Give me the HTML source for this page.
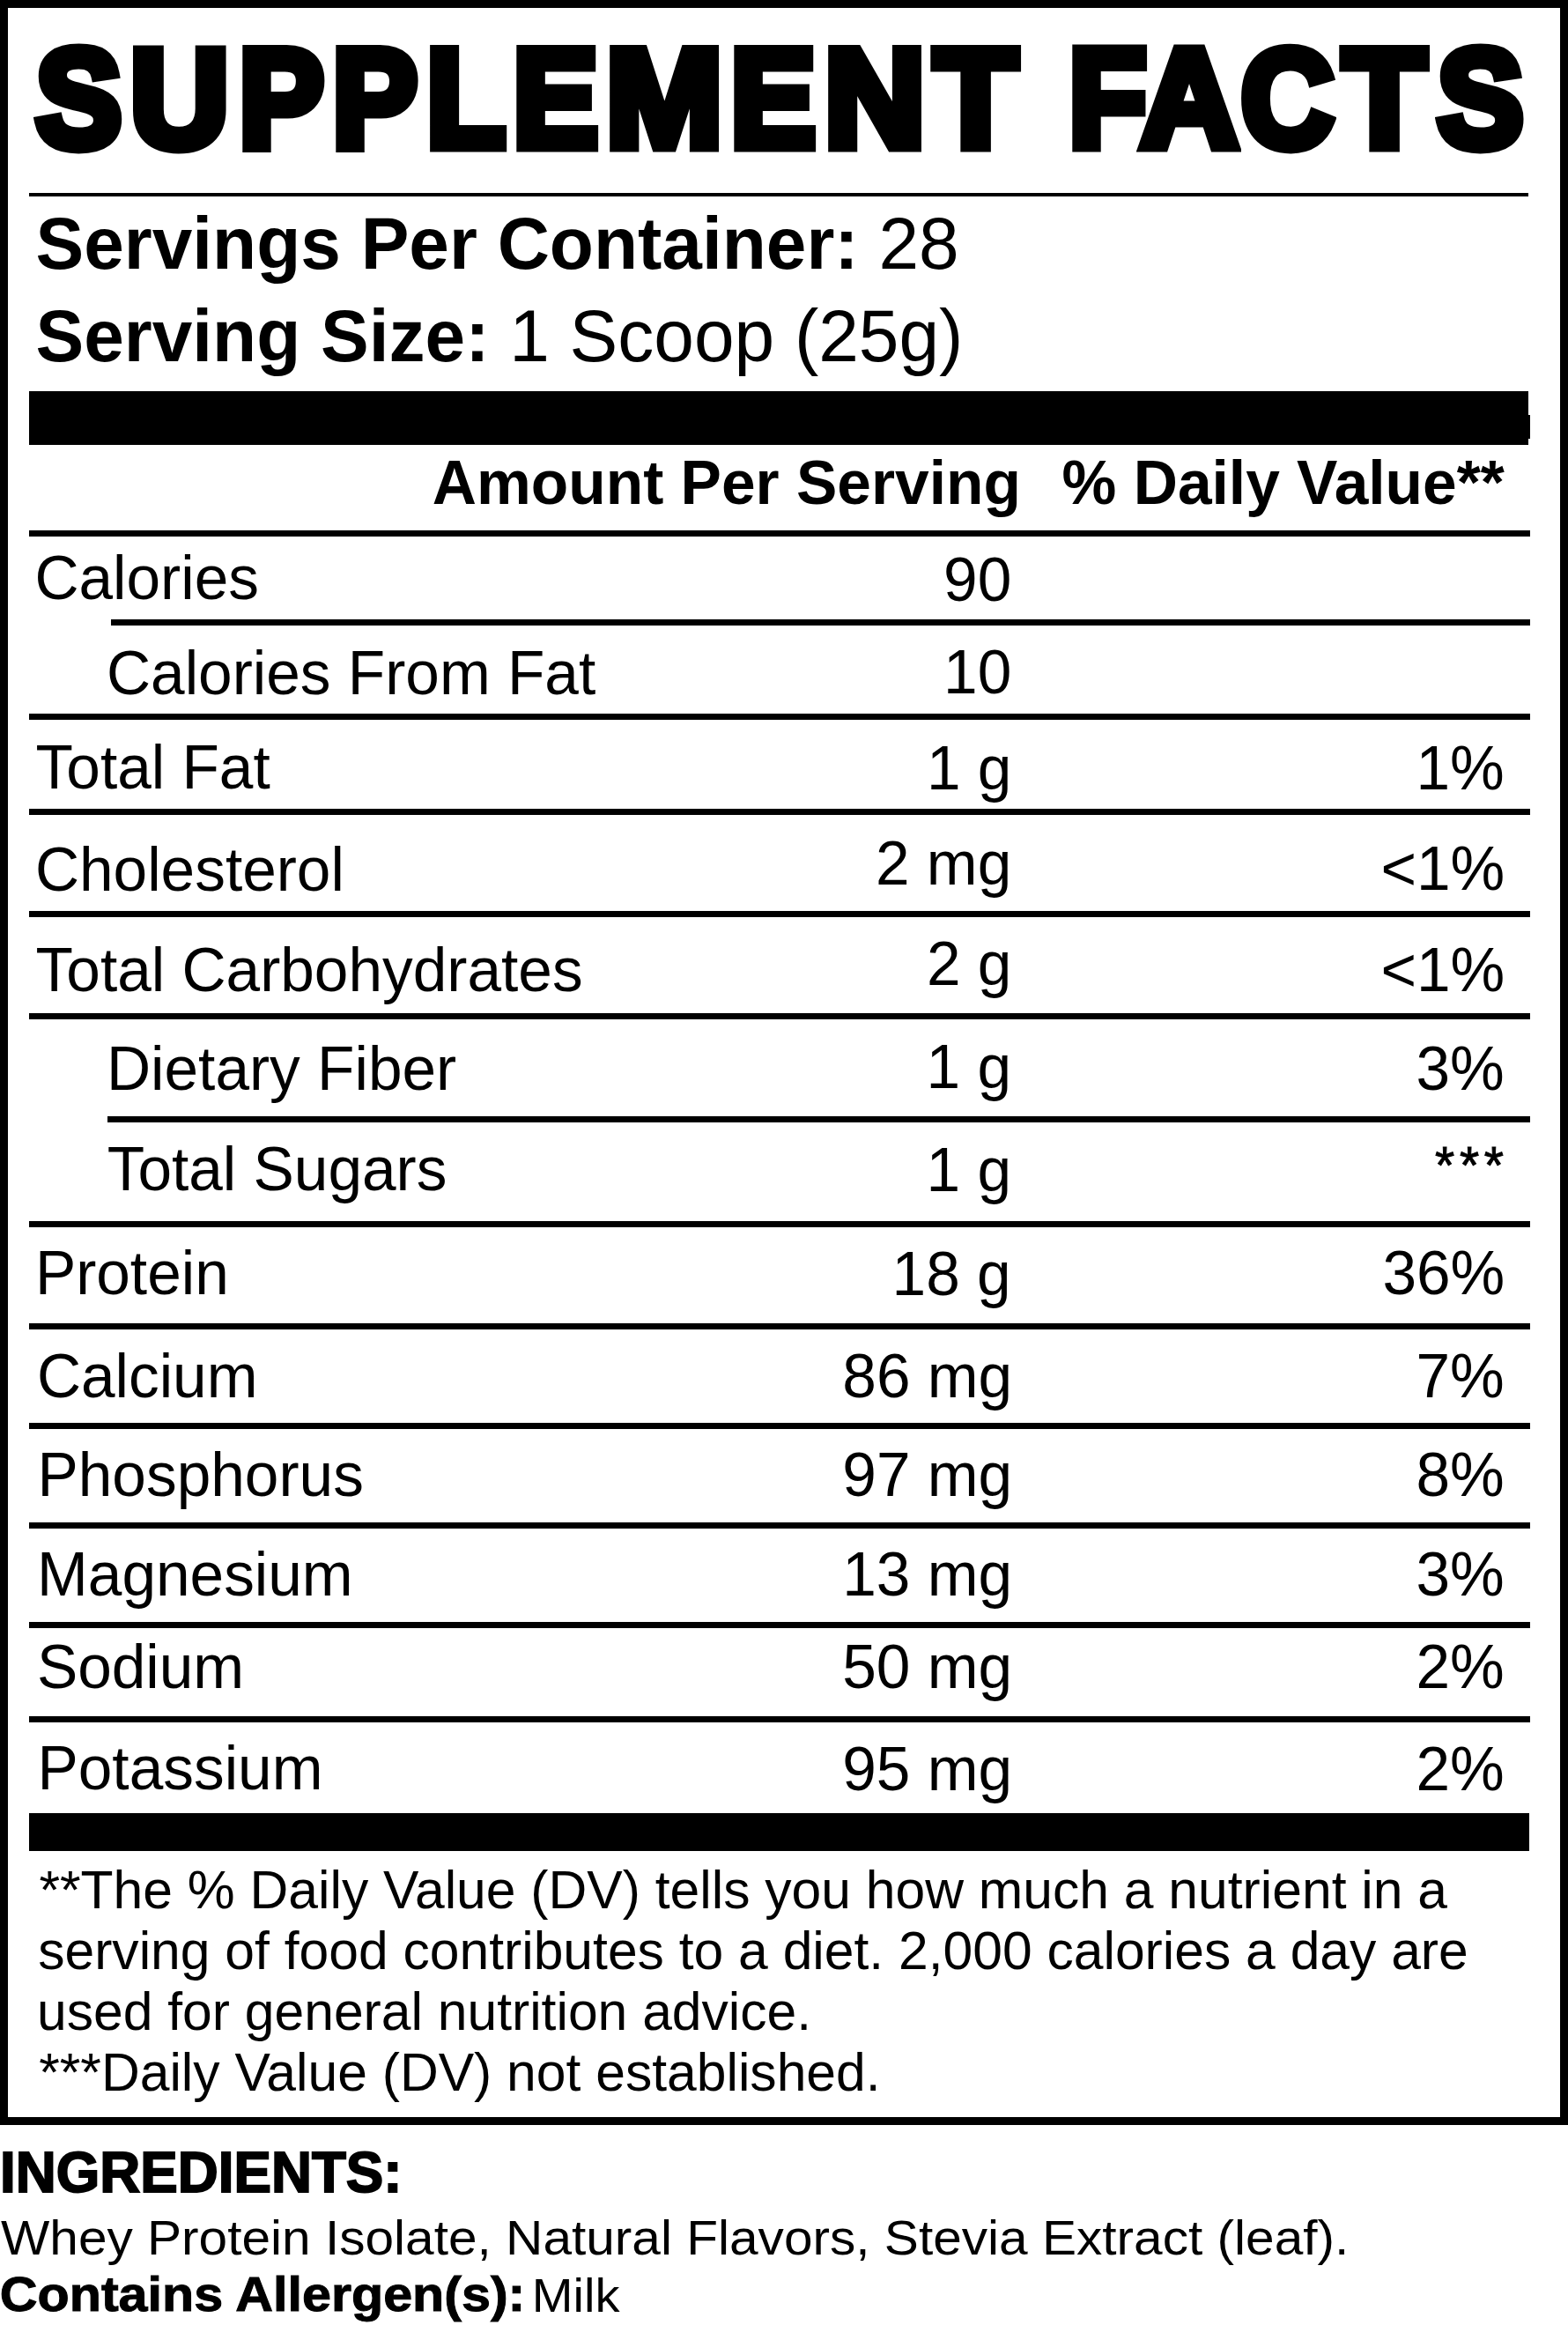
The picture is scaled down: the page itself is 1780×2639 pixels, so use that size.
<!DOCTYPE html>
<html><head><meta charset="utf-8"><title>Supplement Facts</title>
<style>
html,body{margin:0;padding:0;background:#fff;}
body{width:1780px;height:2639px;position:relative;overflow:hidden;}
.t{position:absolute;white-space:nowrap;font-family:"Liberation Sans",sans-serif;line-height:0;color:#000;}
.r{position:absolute;background:#000;}

</style></head><body>
<div class="r" style="left:0px;top:0px;width:1780px;height:9px"></div>
<div class="r" style="left:0px;top:0px;width:9px;height:2412px"></div>
<div class="r" style="left:1771px;top:0px;width:9px;height:2412px"></div>
<div class="r" style="left:0px;top:2403px;width:1780px;height:9px"></div>
<div class="r" style="left:33px;top:219px;width:1702px;height:4px"></div>
<div class="r" style="left:33px;top:444px;width:1702px;height:61px"></div>
<div class="r" style="left:1735px;top:471px;width:2px;height:27px"></div>
<div class="r" style="left:33px;top:602px;width:1704px;height:7px"></div>
<div class="r" style="left:126px;top:703px;width:1611px;height:7px"></div>
<div class="r" style="left:33px;top:810px;width:1704px;height:7px"></div>
<div class="r" style="left:33px;top:918px;width:1704px;height:7px"></div>
<div class="r" style="left:33px;top:1034px;width:1704px;height:7px"></div>
<div class="r" style="left:33px;top:1150px;width:1704px;height:7px"></div>
<div class="r" style="left:122px;top:1267px;width:1615px;height:7px"></div>
<div class="r" style="left:33px;top:1386px;width:1704px;height:7px"></div>
<div class="r" style="left:33px;top:1502px;width:1704px;height:7px"></div>
<div class="r" style="left:33px;top:1615px;width:1704px;height:7px"></div>
<div class="r" style="left:33px;top:1728px;width:1704px;height:7px"></div>
<div class="r" style="left:33px;top:1841px;width:1704px;height:7px"></div>
<div class="r" style="left:33px;top:1948px;width:1704px;height:7px"></div>
<div class="r" style="left:33px;top:2058px;width:1703px;height:43px"></div>
<div class="t" style="left:41.30px;top:111.00px;font-size:160px;font-weight:bold;-webkit-text-stroke:13px #000;transform:scale(0.9109090909090909,0.9852459016393443);transform-origin:-3.0px 61.0px;">S</div>
<div class="t" style="left:148.00px;top:111.00px;font-size:160px;font-weight:bold;-webkit-text-stroke:13px #000;transform:scale(0.9669724770642202,0.9852459016393443);transform-origin:3.0px 61.0px;">U</div>
<div class="t" style="left:270.50px;top:111.00px;font-size:160px;font-weight:bold;-webkit-text-stroke:13px #000;transform:scale(0.8990384615384616,0.9852459016393443);transform-origin:4.0px 61.0px;">P</div>
<div class="t" style="left:377.00px;top:111.00px;font-size:160px;font-weight:bold;-webkit-text-stroke:13px #000;transform:scale(0.9009615384615385,0.9852459016393443);transform-origin:4.0px 61.0px;">P</div>
<div class="t" style="left:484.00px;top:111.00px;font-size:160px;font-weight:bold;-webkit-text-stroke:13px #000;transform:scale(0.9157894736842105,0.9852459016393443);transform-origin:4.0px 61.0px;">L</div>
<div class="t" style="left:582.00px;top:111.00px;font-size:160px;font-weight:bold;-webkit-text-stroke:13px #000;transform:scale(0.9029126213592233,0.9852459016393443);transform-origin:4.0px 61.0px;">E</div>
<div class="t" style="left:688.00px;top:111.00px;font-size:160px;font-weight:bold;-webkit-text-stroke:13px #000;transform:scale(0.992,0.9852459016393443);transform-origin:4.0px 61.0px;">M</div>
<div class="t" style="left:829.00px;top:111.00px;font-size:160px;font-weight:bold;-webkit-text-stroke:13px #000;transform:scale(0.9029126213592233,0.9852459016393443);transform-origin:4.0px 61.0px;">E</div>
<div class="t" style="left:936.00px;top:111.00px;font-size:160px;font-weight:bold;-webkit-text-stroke:13px #000;transform:scale(0.9878504672897197,0.9852459016393443);transform-origin:4.0px 61.0px;">N</div>
<div class="t" style="left:1061.00px;top:111.00px;font-size:160px;font-weight:bold;-webkit-text-stroke:13px #000;transform:scale(0.9592592592592593,0.9852459016393443);transform-origin:-5.0px 61.0px;">T</div>
<div class="t" style="left:1213.00px;top:111.00px;font-size:160px;font-weight:bold;-webkit-text-stroke:13px #000;transform:scale(0.8999999999999999,0.9852459016393443);transform-origin:4.0px 61.0px;">F</div>
<div class="t" style="left:1295.00px;top:111.00px;font-size:160px;font-weight:bold;-webkit-text-stroke:13px #000;transform:scale(0.9568,0.9852459016393443);transform-origin:-5.0px 61.0px;">A</div>
<div class="t" style="left:1408.80px;top:111.00px;font-size:160px;font-weight:bold;-webkit-text-stroke:13px #000;transform:scale(0.907563025210084,0.9852459016393443);transform-origin:0.0px 61.0px;">C</div>
<div class="t" style="left:1525.40px;top:111.00px;font-size:160px;font-weight:bold;-webkit-text-stroke:13px #000;transform:scale(0.9592592592592593,0.9852459016393443);transform-origin:-5.0px 61.0px;">T</div>
<div class="t" style="left:1632.00px;top:111.00px;font-size:160px;font-weight:bold;-webkit-text-stroke:13px #000;transform:scale(0.9136363636363637,0.9852459016393443);transform-origin:-3.0px 61.0px;">S</div>
<div class="t" style="left:40.50px;top:277.20px;font-size:82px;transform:scale(1.0,1.01);transform-origin:3.0px 28.0px;"><b>Servings Per Container:</b> 28</div>
<div class="t" style="left:40.50px;top:381.80px;font-size:82px;transform:scale(1.0,1.01);transform-origin:3.0px 28.0px;"><b>Serving Size:</b> 1 Scoop (25g)</div>
<div class="t" style="left:490.80px;top:548.00px;font-size:69.5px;font-weight:bold;transform:scale(1.0,1.01);transform-origin:2.0px 24.0px;">Amount Per Serving</div>
<div class="t" style="left:1205.60px;top:548.00px;font-size:69.5px;font-weight:bold;transform:scale(1.0,1.01);transform-origin:502.0px 24.0px;">% Daily Value**</div>
<div class="t" style="left:39.40px;top:655.80px;font-size:69.4px;transform:scale(1.0,1.01);transform-origin:4.0px 24.0px;">Calories</div>
<div class="t" style="left:1071.10px;top:658.00px;font-size:69.4px;transform:scale(1.0,1.01);transform-origin:74.0px 24.0px;">90</div>
<div class="t" style="left:121.00px;top:763.50px;font-size:69.4px;transform:scale(1.0,1.01);transform-origin:4.0px 24.0px;">Calories From Fat</div>
<div class="t" style="left:1071.10px;top:763.00px;font-size:69.4px;transform:scale(1.0,1.01);transform-origin:74.0px 24.0px;">10</div>
<div class="t" style="left:40.60px;top:871.20px;font-size:69.4px;transform:scale(1.0,1.01);transform-origin:2.0px 24.0px;">Total Fat</div>
<div class="t" style="left:1052.00px;top:871.80px;font-size:69.4px;transform:scale(1.0,1.01);transform-origin:92.0px 24.0px;">1 g</div>
<div class="t" style="left:1607.40px;top:871.80px;font-size:69.4px;transform:scale(1.0,1.01);transform-origin:98.0px 24.0px;">1%</div>
<div class="t" style="left:39.90px;top:986.50px;font-size:69.4px;transform:scale(1.0,1.01);transform-origin:4.0px 24.0px;">Cholesterol</div>
<div class="t" style="left:994.00px;top:980.10px;font-size:69.4px;transform:scale(1.0,1.01);transform-origin:150.0px 24.0px;">2 mg</div>
<div class="t" style="left:1567.40px;top:986.30px;font-size:69.4px;transform:scale(1.0,1.01);transform-origin:138.0px 24.0px;">&lt;1%</div>
<div class="t" style="left:40.60px;top:1101.20px;font-size:69.4px;transform:scale(1.0,1.01);transform-origin:2.0px 24.0px;">Total Carbohydrates</div>
<div class="t" style="left:1052.00px;top:1094.20px;font-size:69.4px;transform:scale(1.0,1.01);transform-origin:92.0px 24.0px;">2 g</div>
<div class="t" style="left:1567.40px;top:1101.40px;font-size:69.4px;transform:scale(1.0,1.01);transform-origin:138.0px 24.0px;">&lt;1%</div>
<div class="t" style="left:121.00px;top:1212.60px;font-size:69.4px;transform:scale(1.0,1.01);transform-origin:6.0px 24.0px;">Dietary Fiber</div>
<div class="t" style="left:1051.60px;top:1210.90px;font-size:69.4px;transform:scale(1.0,1.01);transform-origin:92.0px 24.0px;">1 g</div>
<div class="t" style="left:1607.40px;top:1212.50px;font-size:69.4px;transform:scale(1.0,1.01);transform-origin:98.0px 24.0px;">3%</div>
<div class="t" style="left:121.70px;top:1327.30px;font-size:69.4px;transform:scale(1.0,1.01);transform-origin:2.0px 24.0px;">Total Sugars</div>
<div class="t" style="left:1051.60px;top:1328.00px;font-size:69.4px;transform:scale(1.0,1.01);transform-origin:92.0px 24.0px;">1 g</div>
<div class="t" style="left:1624.80px;top:1322.50px;font-size:60px;letter-spacing:6px;-webkit-text-stroke:1px #000;transform:scale(0.9506172839506173,1.0);transform-origin:82.0px 20.0px;">***</div>
<div class="t" style="left:39.90px;top:1445.20px;font-size:69.4px;transform:scale(1.0,1.01);transform-origin:6.0px 24.0px;">Protein</div>
<div class="t" style="left:1012.60px;top:1445.80px;font-size:69.4px;transform:scale(1.0,1.01);transform-origin:131.0px 24.0px;">18 g</div>
<div class="t" style="left:1569.40px;top:1445.20px;font-size:69.4px;transform:scale(1.0,1.01);transform-origin:136.0px 24.0px;">36%</div>
<div class="t" style="left:41.90px;top:1561.70px;font-size:69.4px;transform:scale(1.0,1.01);transform-origin:4.0px 24.0px;">Calcium</div>
<div class="t" style="left:956.30px;top:1561.70px;font-size:69.4px;transform:scale(1.0,1.01);transform-origin:188.0px 24.0px;">86 mg</div>
<div class="t" style="left:1607.40px;top:1561.50px;font-size:69.4px;transform:scale(1.0,1.01);transform-origin:98.0px 24.0px;">7%</div>
<div class="t" style="left:42.50px;top:1673.90px;font-size:69.4px;transform:scale(1.0,1.01);transform-origin:6.0px 24.0px;">Phosphorus</div>
<div class="t" style="left:956.30px;top:1674.30px;font-size:69.4px;transform:scale(1.0,1.01);transform-origin:188.0px 24.0px;">97 mg</div>
<div class="t" style="left:1607.40px;top:1674.30px;font-size:69.4px;transform:scale(1.0,1.01);transform-origin:98.0px 24.0px;">8%</div>
<div class="t" style="left:42.00px;top:1786.60px;font-size:69.4px;transform:scale(1.0,1.01);transform-origin:6.0px 24.0px;">Magnesium</div>
<div class="t" style="left:956.20px;top:1786.70px;font-size:69.4px;transform:scale(1.0,1.01);transform-origin:188.0px 24.0px;">13 mg</div>
<div class="t" style="left:1607.40px;top:1786.80px;font-size:69.4px;transform:scale(1.0,1.01);transform-origin:98.0px 24.0px;">3%</div>
<div class="t" style="left:41.90px;top:1892.40px;font-size:69.4px;transform:scale(1.0,1.01);transform-origin:4.0px 24.0px;">Sodium</div>
<div class="t" style="left:956.20px;top:1892.40px;font-size:69.4px;transform:scale(1.0,1.01);transform-origin:188.0px 24.0px;">50 mg</div>
<div class="t" style="left:1607.40px;top:1892.40px;font-size:69.4px;transform:scale(1.0,1.01);transform-origin:98.0px 24.0px;">2%</div>
<div class="t" style="left:42.50px;top:2007.30px;font-size:69.4px;transform:scale(1.0,1.01);transform-origin:6.0px 24.0px;">Potassium</div>
<div class="t" style="left:956.20px;top:2007.50px;font-size:69.4px;transform:scale(1.0,1.01);transform-origin:188.0px 24.0px;">95 mg</div>
<div class="t" style="left:1607.40px;top:2007.80px;font-size:69.4px;transform:scale(1.0,1.01);transform-origin:98.0px 24.0px;">2%</div>
<div class="t" style="left:44.40px;top:2144.80px;font-size:60.6px;transform:scale(1.0,1.01);transform-origin:1.0px 21.0px;">**The % Daily Value (DV) tells you how much a nutrient in a</div>
<div class="t" style="left:43.20px;top:2213.70px;font-size:60.6px;transform:scale(1.0,1.01);transform-origin:2.0px 21.0px;">serving of food contributes to a diet. 2,000 calories a day are</div>
<div class="t" style="left:42.00px;top:2282.50px;font-size:60.6px;transform:scale(1.0,1.01);transform-origin:4.0px 21.0px;">used for general nutrition advice.</div>
<div class="t" style="left:44.20px;top:2352.20px;font-size:60.6px;transform:scale(1.0,1.01);transform-origin:1.0px 21.0px;">***Daily Value (DV) not established.</div>
<div class="t" style="left:0.20px;top:2464.60px;font-size:66px;font-weight:bold;-webkit-text-stroke:2px #000;transform:scale(0.964731182795699,0.9770833333333352);transform-origin:3.0px 24.0px;">INGREDIENTS:</div>
<div class="t" style="left:1.00px;top:2540.40px;font-size:54px;transform:scale(1.0849217638691324,1.0108108108108134);transform-origin:0.0px 19.0px;">Whey Protein Isolate, Natural Flavors, Stevia Extract (leaf).</div>
<div class="t" style="left:-0.40px;top:2604.40px;font-size:54px;font-weight:bold;-webkit-text-stroke:1px #000;transform:scale(1.096461824953445,1.0162162162162138);transform-origin:2.0px 19.0px;">Contains Allergen(s):</div>
<div class="t" style="left:603.50px;top:2604.50px;font-size:54px;transform:scale(1.0391304347826087,1.0081081081081131);transform-origin:4.0px 19.0px;">Milk</div>

</body></html>
